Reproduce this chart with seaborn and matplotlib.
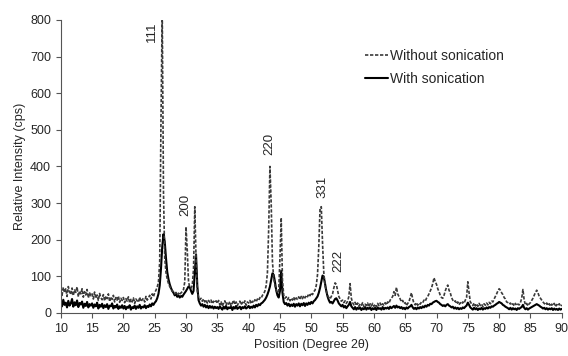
import numpy as np
import pandas as pd
import matplotlib
matplotlib.use("Agg")
import matplotlib.pyplot as plt
import seaborn as sns

# XRD scan: 10 -> 90 deg 2theta, step 0.2 deg
scan_start = 10.0
scan_step = 0.2

# intensity (cps), one row = 5 degrees
without_sonication = [
    62, 48, 70, 55, 66, 45, 72, 58, 50, 68, 47, 63, 56, 71, 44, 60, 52, 66, 43, 58, 49, 64, 41, 55, 47,  # 10
    52, 38, 57, 40, 49, 34, 53, 42, 36, 50, 33, 46, 39, 52, 31, 44, 37, 48, 30, 42, 35, 46, 29, 40, 34,  # 15
    42, 28, 39, 32, 44, 27, 37, 30, 41, 26, 38, 33, 29, 43, 31, 36, 40, 30, 45, 35, 41, 48, 38, 52, 44,  # 20
    55, 62, 70, 85, 140, 520, 830, 330, 150, 110, 92, 80, 72, 66, 60, 58, 52, 56, 50, 54, 49, 55, 58, 64, 85,  # 25
    235, 170, 85, 70, 68, 75, 120, 290, 150, 60, 42, 36, 40, 32, 38, 30, 36, 27, 34, 29, 35, 25, 32, 28, 33,  # 30
    26, 34, 22, 30, 18, 28, 33, 21, 29, 24, 31, 19, 27, 35, 23, 30, 20, 28, 32, 22, 29, 25, 33, 21, 30,  # 35
    27, 34, 25, 32, 28, 36, 30, 38, 34, 42, 40, 48, 52, 60, 75, 110, 230, 400, 300, 140, 95, 75, 62, 55, 60,  # 40
    150, 260, 90, 48, 40, 44, 36, 42, 33, 40, 35, 43, 34, 41, 37, 44, 36, 45, 39, 47, 41, 48, 44, 52, 47,  # 45
    55, 50, 58, 62, 75, 105, 180, 285, 290, 190, 110, 75, 60, 48, 42, 38, 45, 52, 68, 82, 78, 62, 45, 38, 32,  # 50
    35, 28, 33, 26, 32, 45, 80, 40, 28, 22, 29, 20, 27, 18, 25, 21, 28, 17, 24, 20, 27, 16, 25, 19, 26,  # 55
    18, 24, 17, 26, 20, 27, 19, 25, 21, 28, 22, 30, 26, 35, 40, 45, 58, 48, 70, 52, 45, 38, 30, 34, 25,  # 60
    28, 20, 26, 30, 42, 55, 38, 26, 22, 28, 21, 27, 24, 30, 28, 35, 32, 40, 45, 52, 60, 68, 80, 96, 85,  # 65
    78, 66, 58, 48, 42, 40, 48, 60, 70, 76, 62, 55, 42, 35, 30, 33, 25, 30, 22, 28, 24, 30, 26, 35, 42,  # 70
    85, 55, 30, 25, 20, 27, 19, 25, 18, 26, 20, 24, 17, 25, 21, 27, 22, 29, 25, 32, 30, 38, 45, 52, 60,  # 75
    66, 62, 55, 50, 42, 38, 30, 28, 24, 27, 21, 25, 19, 26, 20, 24, 22, 28, 40, 64, 35, 22, 26, 19, 25,  # 80
    28, 34, 40, 48, 56, 62, 55, 45, 40, 35, 30, 26, 22, 27, 20, 25, 18, 24, 20, 26, 17, 23, 19, 25, 18,  # 85
    22,
]

with_sonication = [
    30, 18, 36, 22, 28, 15, 33, 20, 26, 38, 17, 29, 21, 34, 16, 27, 23, 31, 14, 25, 19, 30, 15, 24, 20,  # 10
    26, 14, 23, 18, 28, 12, 22, 17, 25, 13, 21, 16, 24, 11, 20, 18, 26, 12, 19, 15, 23, 11, 18, 14, 21,  # 15
    12, 19, 10, 17, 14, 21, 9, 16, 13, 20, 11, 18, 14, 22, 12, 17, 15, 21, 13, 19, 16, 23, 18, 26, 22,  # 20
    28, 32, 40, 52, 75, 120, 180, 215, 195, 150, 112, 92, 78, 68, 60, 55, 48, 52, 44, 48, 42, 46, 44, 50, 55,  # 25
    60, 66, 72, 70, 60, 52, 60, 110, 160, 75, 35, 26, 20, 24, 17, 22, 15, 20, 13, 19, 14, 18, 12, 17, 13,  # 30
    16, 11, 18, 13, 9, 17, 12, 19, 10, 15, 13, 18, 8, 16, 12, 19, 11, 14, 17, 10, 16, 13, 18, 12, 15,  # 35
    19, 13, 17, 14, 20, 15, 22, 18, 24, 21, 26, 28, 32, 36, 42, 50, 60, 72, 90, 108, 104, 85, 62, 48, 42,  # 40
    60, 115, 55, 30, 24, 27, 20, 25, 18, 23, 19, 25, 17, 24, 20, 26, 18, 25, 21, 27, 19, 26, 22, 28, 24,  # 45
    30, 26, 32, 35, 40, 45, 55, 68, 85, 102, 98, 80, 60, 45, 35, 28, 30, 26, 32, 38, 40, 34, 26, 22, 18,  # 50
    22, 15, 19, 13, 18, 22, 30, 18, 14, 10, 16, 9, 14, 11, 15, 8, 13, 10, 16, 9, 14, 11, 15, 8, 13,  # 55
    10, 14, 8, 15, 11, 13, 9, 16, 10, 14, 12, 15, 11, 17, 13, 16, 19, 14, 20, 15, 17, 13, 16, 11, 14,  # 60
    10, 15, 12, 16, 18, 22, 15, 11, 14, 10, 15, 12, 16, 13, 18, 15, 20, 17, 22, 20, 25, 24, 28, 30, 32,  # 65
    33, 30, 28, 24, 22, 19, 21, 18, 22, 24, 20, 18, 15, 17, 12, 15, 11, 14, 10, 13, 11, 15, 13, 17, 20,  # 70
    28, 22, 15, 12, 9, 14, 10, 13, 8, 12, 10, 14, 9, 13, 11, 15, 12, 16, 14, 18, 17, 20, 22, 25, 27,  # 75
    30, 28, 26, 22, 20, 17, 15, 13, 10, 14, 9, 13, 10, 12, 8, 13, 11, 14, 16, 22, 14, 10, 13, 9, 12,  # 80
    14, 16, 18, 20, 22, 24, 22, 20, 17, 15, 12, 14, 10, 13, 9, 12, 10, 13, 8, 12, 9, 11, 8, 12, 9,  # 85
    11,
]

# miller indices and where their labels sit
peak_labels = ["111", "200", "220", "331", "222"]
label_x = [24.5, 29.95, 43.25, 51.85, 54.25]
label_y = [768, 295, 462, 344, 142]

assert len(without_sonication) == len(with_sonication) == 401
two_theta = np.round(scan_start + scan_step * np.arange(len(without_sonication)), 1)

df = pd.DataFrame({
    "two_theta": two_theta,
    "without": without_sonication,
    "with": with_sonication,
})

sns.set_style("ticks")
plt.rcParams["font.family"] = ["Liberation Sans", "DejaVu Sans"]

fig = plt.figure(figsize=(5.68, 3.56), dpi=100)
ax = fig.add_axes([0.107, 0.121, 0.882, 0.823])

sns.lineplot(data=df, x="two_theta", y="with", ax=ax, color="black",
             linewidth=1.5, label="With sonication", sort=False, estimator=None)
sns.lineplot(data=df, x="two_theta", y="without", ax=ax, color="#3a3a3a",
             linewidth=1.2, label="Without sonication", sort=False, estimator=None)
ax.lines[1].set_dashes([2.0, 1.0])

# legend: dashed entry first, like the original
handles, labels = ax.get_legend_handles_labels()
ax.legend(handles[::-1], labels[::-1], loc="upper left", bbox_to_anchor=(0.608, 0.9),
          frameon=False, fontsize=10, handlelength=1.65, handletextpad=0.1,
          labelspacing=0.62, borderpad=0, borderaxespad=0)

for txt, x, y in zip(peak_labels, label_x, label_y):
    ax.text(x, y, txt, rotation=90, ha="center", va="center", fontsize=9.5)

ax.set_xlim(10, 90)
ax.set_ylim(0, 800)
ax.set_xticks(np.arange(10, 91, 5))
ax.set_yticks(np.arange(0, 801, 100))
ax.tick_params(labelsize=9, length=3.5, width=0.8, color="#555555")
ax.set_xlabel("Position (Degree 2θ)", fontsize=9, labelpad=3)
ax.set_ylabel("Relative Intensity (cps)", fontsize=9, labelpad=3)
sns.despine(ax=ax)
for s in ["left", "bottom"]:
    ax.spines[s].set_linewidth(0.8)
    ax.spines[s].set_color("#555555")

plt.savefig("out.png", dpi=100)
